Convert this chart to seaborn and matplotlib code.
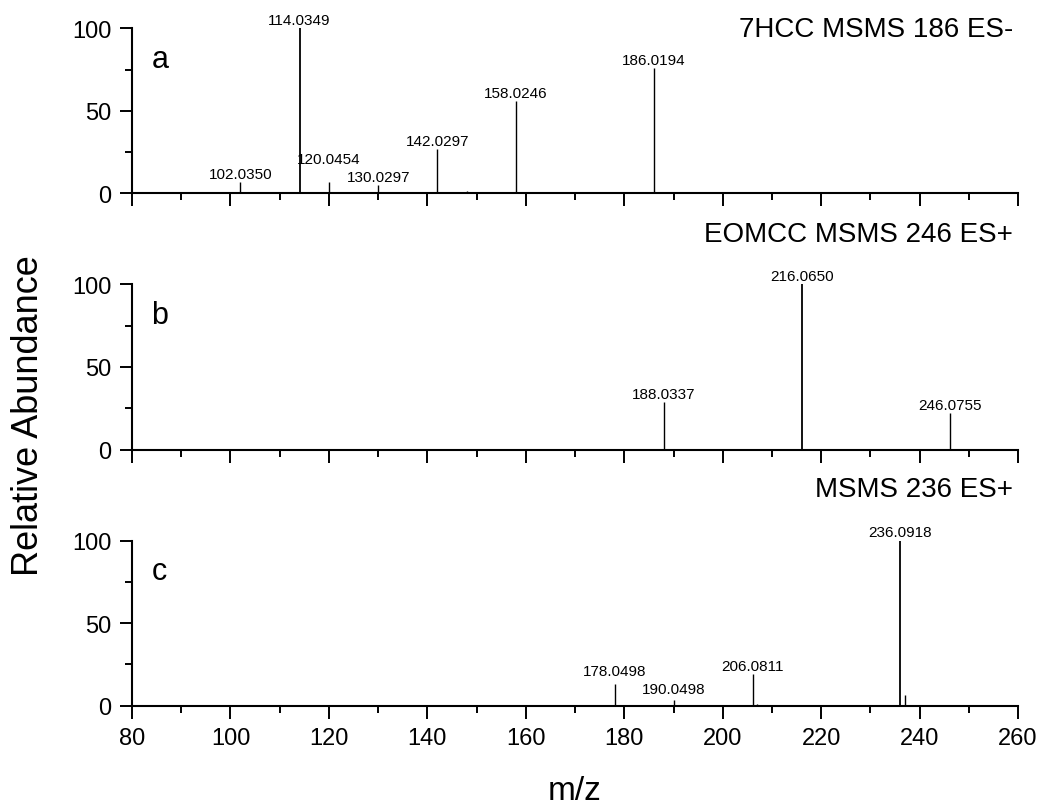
import matplotlib
matplotlib.use("Agg")
import matplotlib.pyplot as plt
from matplotlib.ticker import MultipleLocator
import seaborn as sns

# ---- data ----
mz_a = [102.0350, 114.0349, 120.0454, 130.0297, 142.0297, 158.0246, 186.0194]
int_a = [6.7, 100.0, 7.1, 5.0, 26.9, 56.0, 75.9]
minor_mz_a = [115.0, 148.0, 159.0, 187.0]
minor_int_a = [0.6, 1.2, 0.5, 0.8]

mz_b = [188.0337, 216.0650, 246.0755]
int_b = [28.7, 100.0, 22.0]

mz_c = [178.0498, 190.0498, 206.0811, 236.0918]
int_c = [13.1, 3.5, 19.2, 100.0]
minor_mz_c = [207.0, 237.0]
minor_int_c = [1.0, 6.7]

titles = ["7HCC MSMS 186 ES-", "EOMCC MSMS 246 ES+", "MSMS 236 ES+"]
letters = ["a", "b", "c"]
x_ticks = [80, 100, 120, 140, 160, 180, 200, 220, 240, 260]
y_ticks = [0, 50, 100]

# label extra vertical offsets (points) for crowded labels
extra_off = {120.0454: 10, 178.0498: 3.5, 190.0498: 1.5}

sns.set_theme(style="ticks")
plt.rcParams['font.family'] = ['Liberation Sans', 'DejaVu Sans']

fig = plt.figure(figsize=(10.41, 8.12), dpi=100)
left, width = 0.1268, 0.8512
boxes = [(0.7607, 0.2032), (0.4450, 0.2036), (0.1297, 0.2034)]
title_y = [0.955, 1.264, 1.268]

panels = [
    (mz_a, int_a, minor_mz_a, minor_int_a),
    (mz_b, int_b, [], []),
    (mz_c, int_c, minor_mz_c, minor_int_c),
]

axes = []
for i, ((mz, inten, mmz, mint), (bot, h)) in enumerate(zip(panels, boxes)):
    ax = fig.add_axes([left, bot, width, h])
    axes.append(ax)
    ax.set_facecolor("white")
    lw = [1.3 if v >= 99 else 1.0 for v in inten]
    ax.vlines(mz, 0, inten, colors="black", linewidth=lw, clip_on=False, zorder=3)
    if mmz:
        ax.vlines(mmz, 0, mint, colors="black", linewidth=1.0, clip_on=False, zorder=3)
    for m, v in zip(mz, inten):
        ax.annotate(f"{m:.4f}", xy=(m, v), xytext=(0, 1 + extra_off.get(m, 0)),
                    textcoords="offset points", ha="center", va="bottom",
                    fontsize=11, color="black", annotation_clip=False)
    ax.set_xlim(80, 260)
    ax.set_ylim(0, 100)
    ax.set_xticks(x_ticks)
    ax.xaxis.set_minor_locator(MultipleLocator(10))
    ax.set_yticks(y_ticks)
    ax.yaxis.set_minor_locator(MultipleLocator(25))
    sns.despine(ax=ax)
    for s in ("left", "bottom"):
        ax.spines[s].set_linewidth(1.5)
        ax.spines[s].set_color("black")
    ax.tick_params(axis="both", which="major", direction="out", length=9,
                   width=1.4, color="black", labelsize=17, pad=6, labelcolor="black")
    ax.tick_params(axis="both", which="minor", direction="out", length=5,
                   width=1.4, color="black")
    if i < 2:
        ax.tick_params(axis="x", labelbottom=False)
    ax.text(0.994, title_y[i], titles[i], transform=ax.transAxes,
            ha="right", va="baseline", fontsize=20, color="black")
    ax.text(0.022, 0.767, letters[i], transform=ax.transAxes,
            ha="left", va="baseline", fontsize=22, color="black")
    ax.grid(False)

fig.text(0.027, 0.4877, "Relative Abundance", rotation=90, ha="center", va="center",
         fontsize=26, color="black")
fig.text(left + width / 2, 0.0148, "m/z", ha="center", va="baseline",
         fontsize=24, color="black")

fig.savefig("out.png", dpi=100, facecolor="white")
